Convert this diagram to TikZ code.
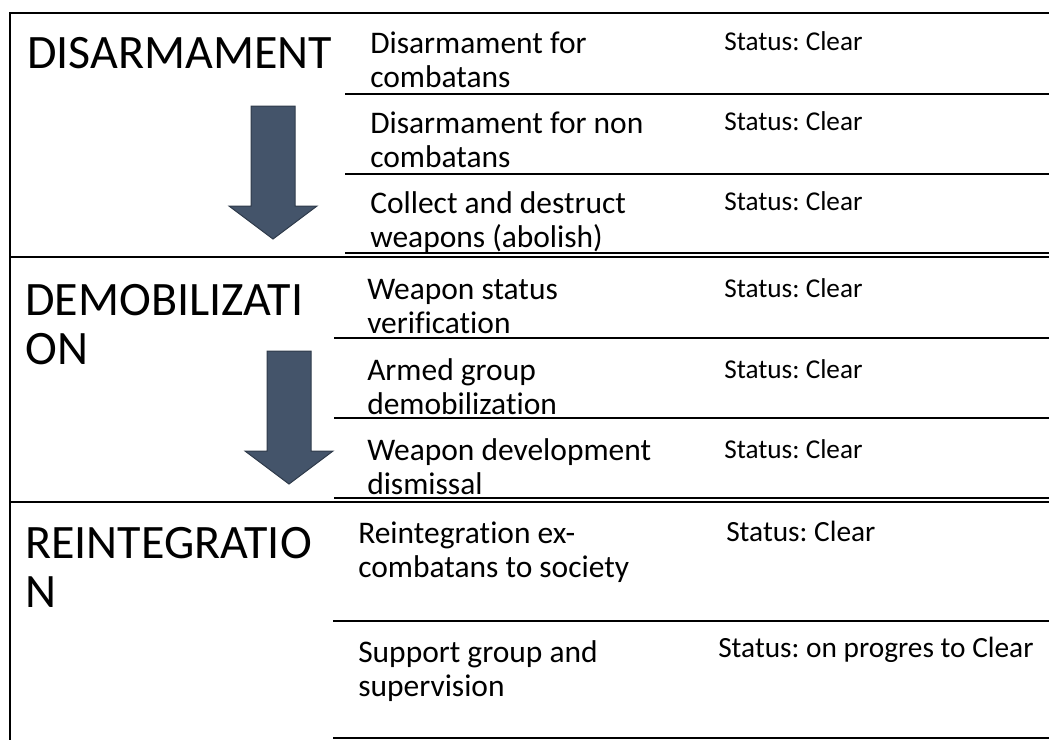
\documentclass[tikz,border=0pt]{standalone}
\usepackage{fontspec}
\setmainfont{Carlito}[Ligatures=NoCommon]
\frenchspacing
\definecolor{arrowfill}{HTML}{44546A}
\definecolor{arrowline}{HTML}{2F3B4B}
\begin{document}
\begin{tikzpicture}[x=0.75pt,y=-0.75pt,
    rule/.style={line width=1.5pt},
    stage/.style={anchor=base west,inner sep=0,align=left,font=\fontsize{36}{36.5}\selectfont},
    task/.style={anchor=base west,inner sep=0,align=left,font=\fontsize{23.6}{25.5}\selectfont},
    state/.style={anchor=base west,inner sep=0,font=\fontsize{20.4}{24}\selectfont},
    flow/.style={fill=arrowfill,draw=arrowline,line width=0.75pt}]
  \useasboundingbox (0,0) rectangle (1049,740);
  \draw[rule] (1049,13) -- (10,13) -- (10,740);
  \foreach \y in {257,502}
    \draw[rule] (10,\y) -- (1049,\y);
  \foreach \x/\y in {345/94,345/174,345/253,334/338,334/418,334/498,333/621,333/738}
    \draw[rule] (\x,\y) -- (1049,\y);
  % block arrows
  \foreach \x/\y in {273/106,289/351}
    \draw[flow] (\x-22,\y) -- (\x+22,\y) -- (\x+22,\y+100) -- (\x+44,\y+100)
      -- (\x,\y+133) -- (\x-44,\y+100) -- (\x-22,\y+100) -- cycle;
  % stages (base = last line)
  \node[stage] (dis) at (27,68) {DISARMAMENT};
  \node[stage] (dem) at (25,364) {DEMOBILIZATI\\ON};
  \node[stage] (rei) at (25,607) {REINTEGRATIO\\N};
  % tasks
  \foreach \n/\x/\y/\t in {1/370/87/{Disarmament for\\combatans},
      2/370/167/{Disarmament for non\\combatans},
      3/370/247/{Collect and destruct\\weapons (abolish)},
      4/367/333/{Weapon status\\verification},
      5/367/414/{Armed group\\demobilization},
      6/367/494/{Weapon development\\dismissal},
      7/358/577/{Reintegration ex-\\combatans to society},
      8/358/696/{Support group and\\supervision}}
    \node[task] (t\n) at (\x,\y) {\t};
  % status
  \foreach \n/\x/\y in {1/724/50,2/724/130,3/724/210,4/724/297,5/724/378,6/724/458}
    \node[state] (s\n) at (\x,\y) {Status: Clear};
  \node[state,font=\fontsize{22}{24}\selectfont] (s7) at (726,541) {Status: Clear};
  \node[state,font=\fontsize{22}{24}\selectfont] (s8) at (718,657) {Status: on progres to Clear};
\end{tikzpicture}
\end{document}
